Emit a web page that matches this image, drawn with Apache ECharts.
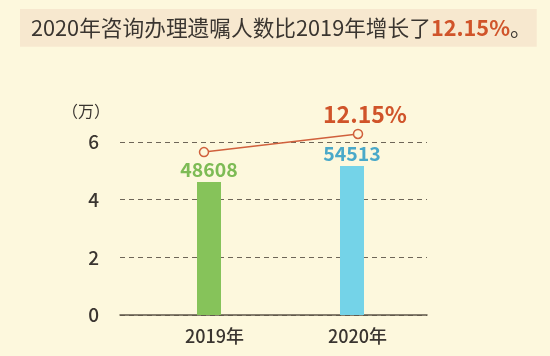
<!DOCTYPE html>
<html><head><meta charset="utf-8">
<script src="https://cdn.jsdelivr.net/npm/echarts@6/dist/echarts.min.js"></script>
<style>html,body{margin:0;padding:0;background:#fdf8dd;}#c{width:550px;height:356px;}</style>
</head><body><div id="c"></div>
<script>
var categories = ['2019年', '2020年'];
var barValues = [4.61, 5.17];          // bar heights as drawn (万)
var barLabels = ['48608', '54513'];
var lineValues = [5.65, 6.28];
var growthLabel = '12.15%';
var yTicks = [0, 2, 4, 6];

var FONT = '"Noto Sans CJK SC", "Noto Sans", sans-serif';
var chart = echarts.init(document.getElementById('c'));
var common = {top: 142, bottom: 41};
chart.setOption({
  animation: false,
  backgroundColor: '#fdf8dd',
  textStyle: {fontFamily: FONT},
  title: {
    text: '{a|2020年咨询办理遗嘱人数比2019年增长了}{b|' + growthLabel + '}{a|。}',
    left: 20, top: 9,
    backgroundColor: '#f7e8cf',
    padding: [8, 5, 8, 11],
    textStyle: {
      fontWeight: 'normal',
      rich: {
        a: {fontSize: 21.7, color: '#3a3530', fontWeight: 'normal', fontFamily: FONT},
        b: {fontSize: 21.7, color: '#d0542a', fontWeight: 'bold', fontFamily: FONT}
      }
    }
  },
  graphic: [{
    type: 'text', left: 62, top: 103,
    style: {text: '（万）', font: '16px ' + FONT, fill: '#3a3530'}
  }],
  grid: [
    Object.assign({left: 120, right: 123}, common),
    Object.assign({left: 137.5, right: 126.5}, common),
    Object.assign({left: 127, right: 115}, common)
  ],
  xAxis: [
    {type: 'category', gridIndex: 0, data: categories,
     axisLine: {lineStyle: {color: '#5e5648', width: 1.5}},
     axisTick: {show: false}, axisLabel: {show: false}},
    {type: 'category', gridIndex: 1, data: categories,
     axisLine: {show: false}, axisTick: {show: false},
     axisLabel: {color: '#3a3530', fontSize: 18, fontWeight: 500, margin: 12, padding: [0, 0, 0, 11], fontFamily: FONT}},
    {type: 'category', gridIndex: 2, data: categories, show: false}
  ],
  yAxis: [
    {type: 'value', gridIndex: 0, min: 0, max: 6, interval: 2,
     axisLine: {show: false}, axisTick: {show: false},
     axisLabel: {color: '#3a3530', fontSize: 19, fontWeight: 500, margin: 21, fontFamily: FONT,
       formatter: function (v) { return yTicks.indexOf(v) >= 0 ? String(v) : ''; }},
     splitLine: {lineStyle: {color: '#6e6658', type: [5, 4], width: 1}}},
    {type: 'value', gridIndex: 1, min: 0, max: 6, show: false, splitLine: {show: false}},
    {type: 'value', gridIndex: 2, min: 0, max: 6, show: false, splitLine: {show: false}}
  ],
  series: [
    {type: 'bar', xAxisIndex: 1, yAxisIndex: 1, barWidth: 24,
     data: barValues.map(function (v, i) {
       var col = i === 0 ? '#86c35a' : '#74d3e8';
       var lab = i === 0 ? '#7dbb55' : '#4aa9c9';
       return {value: v, itemStyle: {color: col},
         label: {show: true, position: 'top', distance: 3, formatter: barLabels[i],
           color: lab, fontSize: 19.5, fontWeight: 'bold', fontFamily: FONT}};
     })},
    {type: 'line', xAxisIndex: 2, yAxisIndex: 2, clip: false,
     symbol: 'circle', symbolSize: 9, z: 5,
     lineStyle: {color: '#d0603c', width: 1.5},
     itemStyle: {color: '#fdf8dd', borderColor: '#d0603c', borderWidth: 1.5},
     data: lineValues.map(function (v, i) {
       return {value: v, label: {show: i === 1, position: 'top', distance: 3, offset: [7, 0],
         formatter: growthLabel, color: '#d0542a', fontSize: 23, fontWeight: 'bold', fontFamily: FONT}};
     })}
  ]
});
</script></body></html>
